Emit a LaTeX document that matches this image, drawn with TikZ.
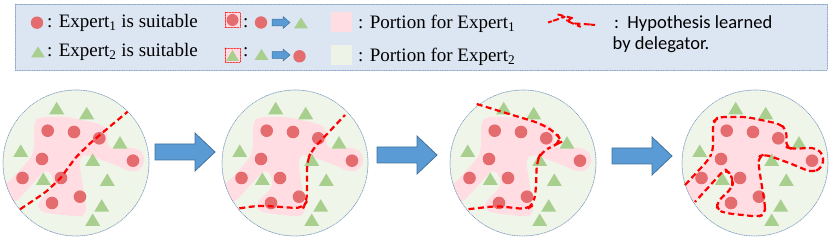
\documentclass[tikz,border=0pt]{standalone}
\usepackage{fontspec}
\setmainfont{Liberation Serif}
\newfontfamily\calib{Carlito}
\usepackage{xcolor}
\usetikzlibrary{calc}
\definecolor{legbg}{HTML}{DCE6F2}
\definecolor{legedge}{HTML}{8BA6C9}
\definecolor{panelgreen}{HTML}{F0F5EA}
\definecolor{pinkbg}{HTML}{FFDDE2}
\definecolor{greenkey}{HTML}{EDF3E6}
\definecolor{dotred}{HTML}{E46C6E}
\definecolor{trigreen}{HTML}{A8CF8D}
\definecolor{arrowblue}{HTML}{5B9BD5}
\definecolor{arrowedge}{HTML}{41719C}
\definecolor{rimblue}{HTML}{7E9BBE}
\tikzset{
  dot/.style={fill=dotred},
  tri/.style={fill=trigreen},
  pinkpart/.style={fill=pinkbg, rounded corners=6pt},
  hypo/.style={draw=red, line width=2.2pt, line cap=butt, dash pattern=on 6pt off 3.5pt, rounded corners=8pt},
  bigarrow/.style={fill=arrowblue, draw=arrowedge, line width=0.8pt, line join=miter},
  legbox/.style={fill=legbg, draw=legedge, line width=0.7pt, densely dotted},
  swapbox/.style={draw=red, line width=0.5pt, densely dotted, fill=pinkbg},
  rim/.style={draw=rimblue, line width=0.7pt, densely dotted},
  legtext/.style={anchor=base west, inner sep=0pt, font=\fontsize{19}{21}\selectfont},
  hyptext/.style={anchor=base west, inner sep=0pt, font=\calib\fontsize{18.5}{21}\selectfont},
  every picture/.style={line cap=round, line join=round}
}
% outline of the part that suits expert 1 (relative to the panel centre)
\newcommand{\blobline}{(-70,22) -- (-46.7,-3) -- (-42,-12) -- (-42,-41) -- (-37,-46) -- (-8,-46)
  -- (25,-39) -- (31.7,-33) -- (31,-16) -- (37,-14) -- (60,-15.5) -- (69,-8) -- (67,5)
  -- (57,9.5) -- (35,0.3) -- (10,-8.7) -- (3.3,-6.3) -- (4,5.3) -- (10,42) -- (10,51.3)
  -- (3.3,53.7) -- (-28.3,50.3) -- (-38.3,47) -- (-37.7,38.7) -- (-23.3,25.3) -- (-21.7,18.7)
  -- (-25,10.3) -- (-30,6) -- (-60,39)}

\begin{document}
\begin{tikzpicture}[x=1pt,y=-1pt]
  \useasboundingbox (0,0) rectangle (831,240);

  % legend
  \draw[legbox] (15,4) rectangle (827,70);

  \fill[dot] (37,22.7) circle[radius=6.2pt];
  \node[legtext] (suit1) at (47,27.7) {: Expert\textsubscript{1} is suitable};
  \fill[tri] (31,57.5) -- (45,57.5) -- (38,46.5) -- cycle;
  \node[legtext] (suit2) at (47,56.7) {: Expert\textsubscript{2} is suitable};

  \draw[swapbox] (225,12.5) rectangle (240,27.5);
  \fill[dot] (232.5,20) circle[radius=6pt];
  \node[legtext] (col1) at (243,27.7) {:};
  \fill[dot] (261,22.5) circle[radius=6.2pt];
  \fill[tri] (294,28.5) -- (308,28.5) -- (301,17.5) -- cycle;

  \draw[swapbox] (225,48) rectangle (240,62.5);
  \fill[tri] (226,61) -- (239,61) -- (232.5,50) -- cycle;
  \node[legtext] (col2) at (243,57) {:};
  \fill[tri] (254.5,60) -- (268.5,60) -- (261.5,49) -- cycle;
  \fill[dot] (299.5,56.3) circle[radius=6.2pt];

  \foreach \ay in {22.5,55}
    \filldraw[bigarrow, line width=0.5pt] (272,\ay-3.3) -- (283,\ay-3.3) -- (283,\ay-6) -- (290,\ay)
      -- (283,\ay+6) -- (283,\ay+3.3) -- (272,\ay+3.3) -- cycle;

  \fill[pinkbg] (331,12) rectangle (352,32);
  \node[legtext] (port1) at (358,28.3) {: Portion for Expert\textsubscript{1}};
  \fill[greenkey] (331,45.5) rectangle (352,65.5);
  \node[legtext] (port2) at (358,61.5) {: Portion for Expert\textsubscript{2}};

  \draw[hypo, line width=2pt] plot[smooth] coordinates {(548,22.5) (557,19.5) (566,16.5) (573,23.5) (583,24) (595,25)};
  \node[hyptext] (hyp1) at (614,28.3) {:\hspace{0.45em}Hypothesis learned};
  \node[hyptext] (hyp2) at (612.5,49.5) {by delegator.};

  % four panels
  \foreach \cx in {76,295,523,755} {
    \begin{scope}[shift={(\cx,163)}]
      \fill[panelgreen] (0,0) circle[radius=73pt];
      \begin{scope}
        \clip (0,0) circle[radius=73pt];
        \fill[pinkpart] \blobline -- (-90,45) -- (-90,15) -- cycle;
      \end{scope}
      \foreach \x/\y in {-28.3/-32.3, -2/-31, 23.3/-24.7, 57/-2.3, -34/-4, -53.5/15, -15/15, -24/40, 4/33.7}
        \fill[dot] (\x,\y) circle[radius=6.3pt];
      \foreach \x/\y in {-19.3/-54.7, 10.7/-49.7, -55.3/-12, 44/-20.3, 16.7/-3, -32.7/16, 31.3/17, 25.7/42.7, 16.7/57}
        \fill[tri] (\x-7.5,\y+6) -- (\x+7.5,\y+6) -- (\x,\y-6.5) -- cycle;
      \draw[rim] (0,0) circle[radius=73pt];
    \end{scope}
  }

  % hypotheses of the delegator
  \begin{scope}[shift={(76,163)}]
    \draw[hypo] plot[smooth] coordinates {(-56,46.3) (-22.7,22) (7.3,-13) (51.7,-51.3)};
  \end{scope}
  \begin{scope}[shift={(295,163)}]
    \draw[hypo] (-55.7,45.3) -- (-35,42.5) -- (8,45.5) -- (12,38) -- (12,-2) -- (17,-13) -- (50,-48);
  \end{scope}
  \begin{scope}[shift={(523,163)}]
    \draw[hypo] (-46.3,-59) -- (-16.3,-49.7) -- (17,-39.7) -- (33.7,-29.7) -- (38.7,-21.3) -- (32,-18)
      -- (18.7,-11.3) -- (13.7,-1.3) -- (13,27) -- (10.3,42) -- (3.7,46.3) -- (-26.3,43) -- (-55.7,46.3);
  \end{scope}
  \begin{scope}[shift={(755,163)}]
    \draw[hypo, rounded corners=6pt] \blobline;
  \end{scope}

  % arrows between panels
  \foreach \ax/\ay in {155/152, 377/155, 612/156}
    \filldraw[bigarrow] (\ax,\ay-8) -- (\ax+40,\ay-8) -- (\ax+40,\ay-19) -- (\ax+60,\ay)
      -- (\ax+40,\ay+19) -- (\ax+40,\ay+8) -- (\ax,\ay+8) -- cycle;
\end{tikzpicture}
\end{document}
